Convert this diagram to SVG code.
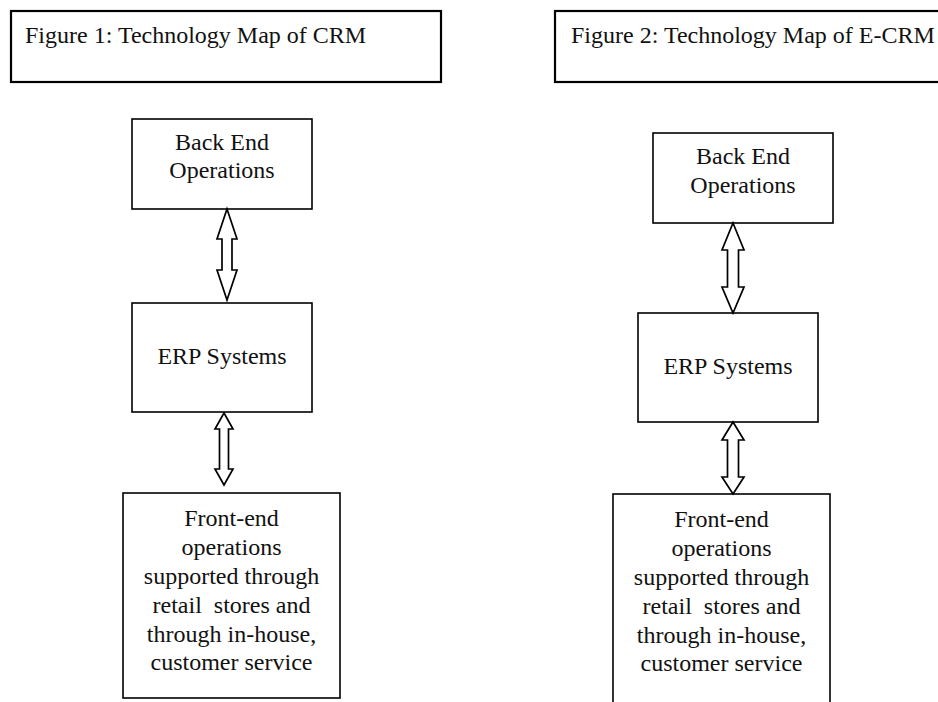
<svg xmlns="http://www.w3.org/2000/svg" width="938" height="702" viewBox="0 0 938 702">
  <style>
    text { font-family: "Liberation Serif", "Times New Roman", serif; font-size: 24px; fill: #111; white-space: pre; }
    .mid { text-anchor: middle; }
    .title { fill: #fff; stroke: #000; stroke-width: 2.2; }
    .box { fill: #fff; stroke: #000; stroke-width: 1.6; }
    .arrow { fill: #fff; stroke: #000; stroke-width: 1.7; stroke-linejoin: miter; }
  </style>
  <rect width="938" height="702" fill="#fff"/>

  <!-- Figure 1 : CRM -->
  <g id="fig1-caption">
    <rect class="title" x="11" y="11" width="430" height="71"/>
    <text x="25" y="43">Figure 1: Technology Map of CRM</text>
  </g>
  <g id="crm-backend">
    <rect class="box" x="132" y="119" width="180" height="90"/>
    <text class="mid" x="222" y="150">Back End</text>
    <text class="mid" x="222" y="178">Operations</text>
  </g>
  <g id="crm-erp">
    <rect class="box" x="132" y="303" width="180" height="109"/>
    <text class="mid" x="222" y="364">ERP Systems</text>
  </g>
  <g id="crm-frontend">
    <rect class="box" x="123" y="493" width="217" height="205"/>
    <text class="mid" x="231.5" y="526">Front-end</text>
    <text class="mid" x="231.5" y="555">operations</text>
    <text class="mid" x="231.5" y="584">supported through</text>
    <text class="mid" x="231.5" y="613">retail  stores and</text>
    <text class="mid" x="231.5" y="642">through in-house,</text>
    <text class="mid" x="231.5" y="670">customer service</text>
  </g>

  <!-- Figure 2 : E-CRM -->
  <g id="fig2-caption">
    <rect class="title" x="555" y="11" width="400" height="71"/>
    <text x="571" y="43">Figure 2: Technology Map of E-CRM</text>
  </g>
  <g id="ecrm-backend">
    <rect class="box" x="653" y="133" width="180" height="90"/>
    <text class="mid" x="743" y="164">Back End</text>
    <text class="mid" x="743" y="193">Operations</text>
  </g>
  <g id="ecrm-erp">
    <rect class="box" x="638" y="313" width="180" height="109"/>
    <text class="mid" x="728" y="374">ERP Systems</text>
  </g>
  <g id="ecrm-frontend">
    <rect class="box" x="613" y="494" width="217" height="220"/>
    <text class="mid" x="721.5" y="527">Front-end</text>
    <text class="mid" x="721.5" y="556">operations</text>
    <text class="mid" x="721.5" y="585">supported through</text>
    <text class="mid" x="721.5" y="614">retail  stores and</text>
    <text class="mid" x="721.5" y="643">through in-house,</text>
    <text class="mid" x="721.5" y="671">customer service</text>
  </g>

  <!-- two-way block arrows between the layers -->
  <g id="connectors">
    <path class="arrow" d="M227,209 L237,239 L232,239 L232,270 L237,270 L227,300 L217,270 L222,270 L222,239 L217,239 Z"/>
    <path class="arrow" d="M224,413 L233,429 L228.5,429 L228.5,469 L233,469 L224,485 L215,469 L219.5,469 L219.5,429 L215,429 Z"/>
    <path class="arrow" d="M733,223 L744,250 L738.5,250 L738.5,287 L744,287 L733,313 L722,287 L727.5,287 L727.5,250 L722,250 Z"/>
    <path class="arrow" d="M733,422 L744,440 L738.5,440 L738.5,477 L744,477 L733,494 L722,477 L727.5,477 L727.5,440 L722,440 Z"/>
  </g>
</svg>
